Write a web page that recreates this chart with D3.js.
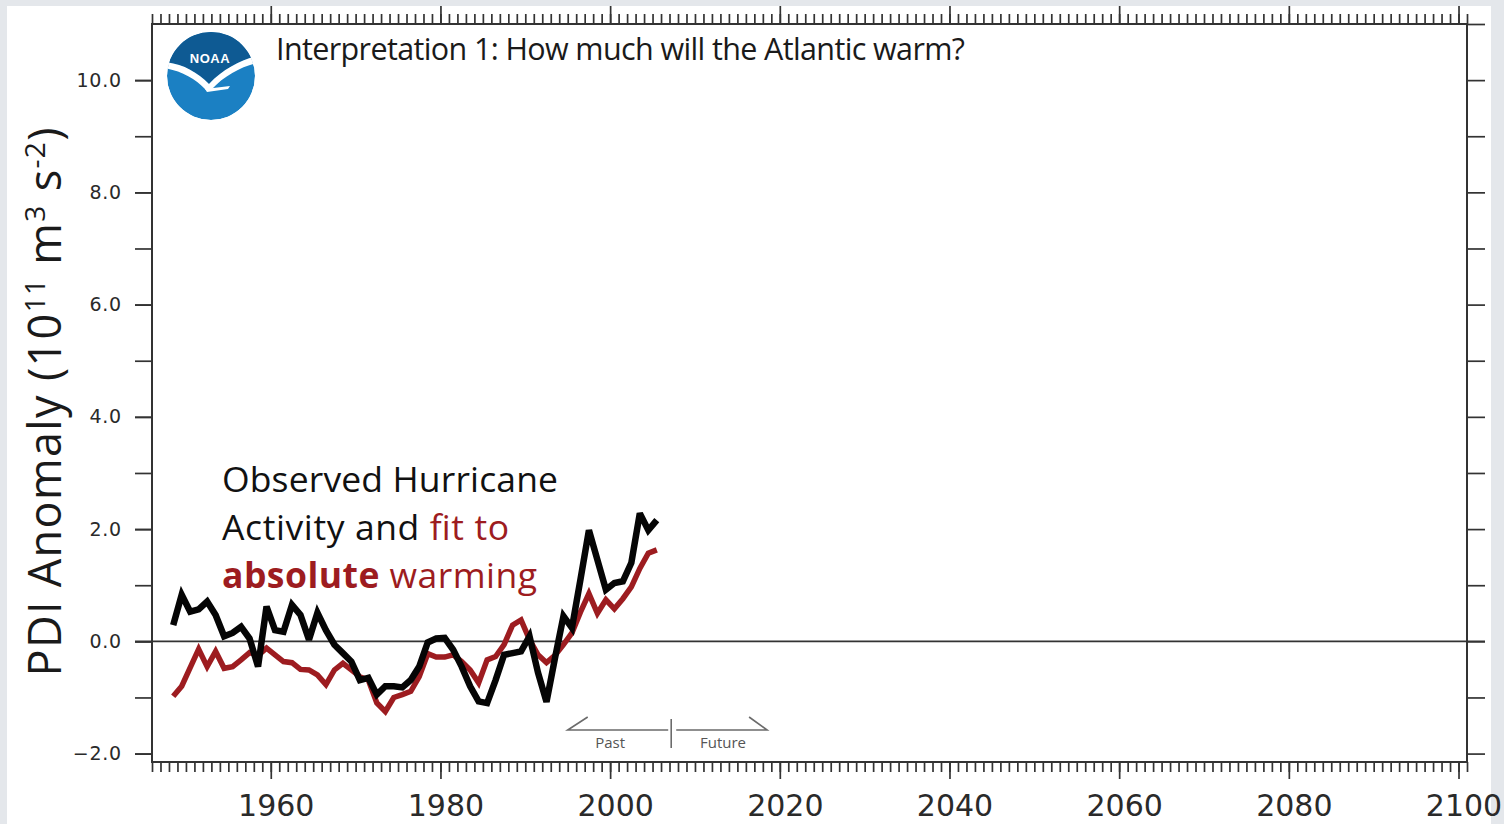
<!DOCTYPE html>
<html>
<head>
<meta charset="utf-8">
<script src="https://cdn.jsdelivr.net/npm/d3@7"></script>
<style>
  html, body { margin: 0; padding: 0; background: #fff; }
  svg { display: block; }
</style>
</head>
<body>
<svg id="chart" width="1504" height="824"></svg>
<script>
// Hurricane season years (values are drawn at mid-season)
const years = [
  1948, 1949, 1950, 1951, 1952, 1953, 1954, 1955, 1956, 1957,
  1958, 1959, 1960, 1961, 1962, 1963, 1964, 1965, 1966, 1967,
  1968, 1969, 1970, 1971, 1972, 1973, 1974, 1975, 1976, 1977,
  1978, 1979, 1980, 1981, 1982, 1983, 1984, 1985, 1986, 1987,
  1988, 1989, 1990, 1991, 1992, 1993, 1994, 1995, 1996, 1997,
  1998, 1999, 2000, 2001, 2002, 2003, 2004, 2005
];

// Observed Atlantic PDI anomaly (10^11 m^3 s^-2)
const observedPDI = [
   0.29,  0.83,  0.53,  0.57,  0.71,  0.47,  0.09,  0.15,  0.26,  0.05,
  -0.45,  0.62,  0.20,  0.17,  0.65,  0.47,  0.03,  0.51,  0.20, -0.06,
  -0.21, -0.36, -0.69, -0.65, -0.95, -0.80, -0.80, -0.82, -0.69, -0.45,
  -0.02,  0.05,  0.06, -0.15, -0.45, -0.80, -1.07, -1.10, -0.69, -0.24,
  -0.21, -0.18,  0.09, -0.56, -1.08, -0.30,  0.45,  0.24,  1.10,  1.98,
   1.45,  0.92,  1.04,  1.07,  1.40,  2.28,  1.98,  2.16
];

// PDI anomaly fitted to absolute (tropical Atlantic) warming
const absoluteFit = [
  -0.98, -0.80, -0.47, -0.14, -0.45, -0.18, -0.48, -0.45, -0.33, -0.20,
  -0.25, -0.12, -0.24, -0.36, -0.38, -0.50, -0.51, -0.60, -0.77, -0.51,
  -0.39, -0.51, -0.63, -0.69, -1.10, -1.25, -1.00, -0.95, -0.89, -0.63,
  -0.22, -0.28, -0.28, -0.24, -0.36, -0.51, -0.74, -0.33, -0.27, -0.06,
   0.29,  0.38,  0.03, -0.24, -0.38, -0.25, -0.06,  0.15,  0.52,  0.85,
   0.50,  0.74,  0.58,  0.76,  0.97,  1.30,  1.57,  1.63
];

const yTickLabels = [-2, 0, 2, 4, 6, 8, 10];
const xTickLabels = [1960, 1980, 2000, 2020, 2040, 2060, 2080, 2100];

// Past / future marker (years)
const presentYear = 2007.2;
const pastStart = 1995;
const futureEnd = 2018.5;
const pastLabelYear = 2000;
const futureLabelYear = 2013.3;

const svg = d3.select("#chart");
const W = 1504, H = 824;
const M = { left: 152, right: 1467, top: 24, bottom: 762 };

const x = d3.scaleLinear().domain([1946, 2101]).range([M.left, M.right]);
const y = d3.scaleLinear().domain([-2.15, 11]).range([M.bottom, M.top]);

const AXIS = "#333";
const RED = "#9d1c20";
const numFont = "'DejaVu Sans', sans-serif";
const textFont = "'Open Sans', 'Noto Sans', sans-serif";

// slide backdrop
svg.append("rect").attr("width", W).attr("height", H).attr("fill", "#e4e7eb");
svg.append("rect").attr("x", 7).attr("y", 6).attr("width", 1484).attr("height", H - 6).attr("fill", "#fff");

function styleAxis(g) {
  g.select(".domain").remove();
  g.selectAll(".tick line").attr("stroke", AXIS).attr("stroke-width", 1.7);
}

const allYears = d3.range(1946, 2102);
const allLevels = d3.range(-2, 11);

// bottom axis: yearly minor ticks, 20-year major ticks with labels
svg.append("g").attr("transform", `translate(0,${M.bottom})`)
  .call(d3.axisBottom(x).tickValues(allYears).tickSize(10).tickFormat(""))
  .call(styleAxis);
svg.append("g").attr("transform", `translate(0,${M.bottom})`)
  .call(d3.axisBottom(x).tickValues(xTickLabels).tickSize(17).tickPadding(16).tickFormat(d3.format("d")))
  .call(styleAxis)
  .call(g => g.selectAll("text")
    .attr("font-family", numFont).attr("font-size", 30).attr("fill", "#2a2a2a")
    .attr("dx", 5));

// top axis: ticks only
svg.append("g").attr("transform", `translate(0,${M.top})`)
  .call(d3.axisTop(x).tickValues(allYears).tickSize(10).tickFormat(""))
  .call(styleAxis);
svg.append("g").attr("transform", `translate(0,${M.top})`)
  .call(d3.axisTop(x).tickValues(xTickLabels).tickSize(18).tickFormat(""))
  .call(styleAxis);

// left axis
svg.append("g").attr("transform", `translate(${M.left},0)`)
  .call(d3.axisLeft(y).tickValues(allLevels).tickSize(17).tickFormat(""))
  .call(styleAxis);
svg.append("g").attr("transform", `translate(${M.left},0)`)
  .call(d3.axisLeft(y).tickValues(yTickLabels).tickSize(17).tickPadding(13).tickFormat(d3.format(".1f")))
  .call(styleAxis)
  .call(g => g.selectAll("text")
    .attr("font-family", numFont).attr("font-size", 19).attr("fill", "#2a2a2a")
    .attr("letter-spacing", 0.8));

// right axis: ticks only
svg.append("g").attr("transform", `translate(${M.right},0)`)
  .call(d3.axisRight(y).tickValues(d3.range(-2, 12)).tickSize(18).tickFormat(""))
  .call(styleAxis);

// plot frame
svg.append("rect")
  .attr("x", M.left).attr("y", M.top)
  .attr("width", M.right - M.left).attr("height", M.bottom - M.top)
  .attr("fill", "none").attr("stroke", AXIS).attr("stroke-width", 2);

// zero line
svg.append("line")
  .attr("x1", M.left - 17).attr("x2", M.right + 18)
  .attr("y1", y(0)).attr("y2", y(0))
  .attr("stroke", AXIS).attr("stroke-width", 1.7);

// series
const line = d3.line()
  .x((d, i) => x(years[i] + 0.5))
  .y(d => y(d));

svg.append("path").datum(absoluteFit)
  .attr("d", line)
  .attr("fill", "none").attr("stroke", RED).attr("stroke-width", 5.5)
  .attr("stroke-linejoin", "miter").attr("stroke-miterlimit", 3);

svg.append("path").datum(observedPDI)
  .attr("d", line)
  .attr("fill", "none").attr("stroke", "#050505").attr("stroke-width", 6.5)
  .attr("stroke-linejoin", "miter").attr("stroke-miterlimit", 3);

// past / future marker
const my = 730;
const mk = svg.append("g").attr("stroke", "#6b6b6b").attr("stroke-width", 1.6).attr("fill", "none");
mk.append("path").attr("d", `M${x(pastStart) + 20},${my - 13} L${x(pastStart)},${my} L${x(presentYear) - 3},${my}`);
mk.append("path").attr("d", `M${x(presentYear) + 5},${my} L${x(futureEnd)},${my} L${x(futureEnd) - 18},${my - 13}`);
mk.append("line").attr("x1", x(presentYear)).attr("x2", x(presentYear)).attr("y1", my - 11).attr("y2", my + 18);
svg.append("text").attr("x", x(pastLabelYear)).attr("y", 748).attr("text-anchor", "middle")
  .attr("font-family", textFont).attr("font-size", 15).attr("fill", "#555").text("Past");
svg.append("text").attr("x", x(futureLabelYear)).attr("y", 748).attr("text-anchor", "middle")
  .attr("font-family", textFont).attr("font-size", 15).attr("fill", "#555").text("Future");

// annotation
const note = svg.append("g").attr("font-family", textFont).attr("font-size", 35.5).attr("fill", "#111");
note.append("text").attr("x", 222).attr("y", 492).attr("textLength", 336).attr("lengthAdjust", "spacing")
  .text("Observed Hurricane");
const l2 = note.append("text").attr("x", 222).attr("y", 540).attr("textLength", 287).attr("lengthAdjust", "spacing");
l2.append("tspan").text("Activity and ");
l2.append("tspan").attr("fill", RED).text("fit to");
const l3 = note.append("text").attr("x", 222).attr("y", 588).attr("textLength", 315).attr("lengthAdjust", "spacing")
  .attr("fill", RED);
l3.append("tspan").attr("font-weight", 700).text("absolute");
l3.append("tspan").text(" warming");

// title
svg.append("text").attr("x", 276).attr("y", 60)
  .attr("font-family", textFont).attr("font-size", 30.5).attr("fill", "#1a1a1a")
  .attr("textLength", 689).attr("lengthAdjust", "spacing")
  .text("Interpretation 1: How much will the Atlantic warm?");

// y-axis title
const yt = svg.append("text")
  .attr("transform", "translate(61,402) rotate(-90)")
  .attr("text-anchor", "middle")
  .attr("font-family", textFont).attr("font-size", 45).attr("fill", "#1a1a1a")
  .attr("textLength", 549).attr("lengthAdjust", "spacing");
yt.append("tspan").text("PDI Anomaly (10");
yt.append("tspan").attr("dy", -16).attr("font-size", 28).text("11");
yt.append("tspan").attr("dy", 16).text(" m");
yt.append("tspan").attr("dy", -16).attr("font-size", 28).text("3");
yt.append("tspan").attr("dy", 16).text(" s");
yt.append("tspan").attr("dy", -16).attr("font-size", 28).text("-2");
yt.append("tspan").attr("dy", 16).text(")");

// NOAA emblem
const logo = svg.append("g").attr("transform", "translate(211,76)");
logo.append("clipPath").attr("id", "logoClip").append("circle").attr("r", 44);
const lg = logo.append("g").attr("clip-path", "url(#logoClip)");
lg.append("circle").attr("r", 44).attr("fill", "#1b80c3");
lg.append("path").attr("fill", "#0e5a93")
  .attr("d", "M-46,-46 H46 V-20 C30,-16 12,-7 -2,8 C-14,-4 -28,-12 -46,-14 Z");
lg.append("path").attr("fill", "#fff")
  .attr("d", "M-46,-14 C-28,-12 -14,-4 -2,8 C12,-7 30,-16 46,-20 L46,-13 C30,-9 14,-1 0,14 L-5,14 C-16,2 -30,-5 -46,-8 Z");
lg.append("path").attr("fill", "#fff").attr("d", "M-6,13 L19,10 L17,13 L-4,16 Z");
logo.append("text").attr("x", -1).attr("y", -13).attr("text-anchor", "middle")
  .attr("font-family", "'Liberation Sans', sans-serif").attr("font-weight", 700)
  .attr("font-size", 13).attr("fill", "#fff").attr("letter-spacing", 0.5).text("NOAA");
</script>
</body>
</html>
